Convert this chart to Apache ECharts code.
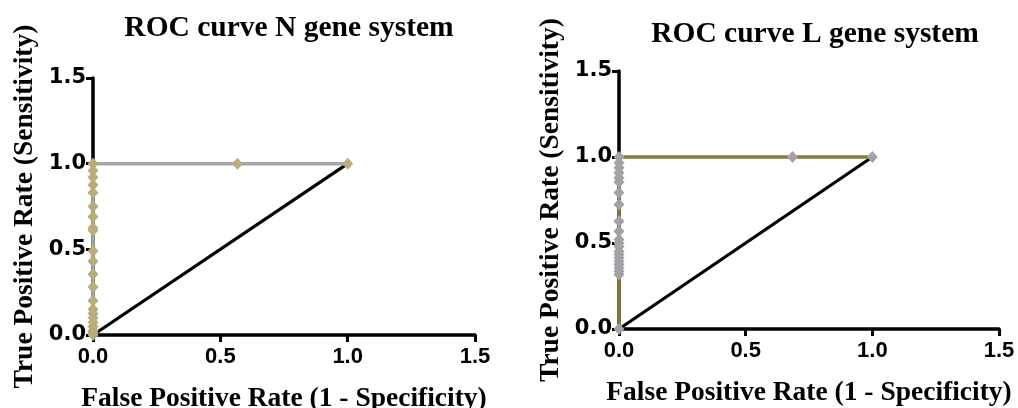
<!DOCTYPE html>
<html>
<head>
<meta charset="utf-8">
<script src="https://cdn.jsdelivr.net/npm/echarts@6/dist/echarts.min.js"></script>
<style>
html,body{margin:0;padding:0;background:#fff;}
#chart{width:1018px;height:408px;}
</style>
</head>
<body>
<div id="chart"></div>
<script>
// ---- data ----
const titles = ['ROC curve N gene system', 'ROC curve L gene system'];
const xAxisTitle = 'False Positive Rate (1 - Specificity)';
const yAxisTitle = 'True Positive Rate (Sensitivity)';

// N gene ROC curve (1 - specificity, sensitivity)
const nFpr = [0,0,0,0,0,0,0,0,0,0,0,0,0,0,0,0,0,0,0,0,0,0,0.567,1.0];
const nTpr = [0,0.012,0.025,0.05,0.075,0.1,0.125,0.15,0.2,0.28,0.355,0.43,0.49,0.61,0.625,0.69,0.75,0.83,0.875,0.92,0.96,1.0,1.0,1.0];

// L gene ROC curve
const lFpr = [0,0,0,0,0,0,0,0,0,0,0,0,0,0,0,0,0,0,0,0,0,0,0.685,1.0];
const lTpr = [0,0.317,0.336,0.355,0.375,0.394,0.414,0.433,0.452,0.48,0.5,0.52,0.569,0.627,0.724,0.792,0.854,0.88,0.909,0.938,0.967,1.0,1.0,1.0];

// reference (chance) line
const chanceX = [0, 1];
const chanceY = [0, 1];

const axisMin = 0, axisMax = 1.5, axisStep = 0.5;

// ---- styling ----
const colors = {
  nLine: '#a6a6a6', nMarker: '#b9ad7c',
  lLine: '#8c7a3a', lMarker: '#a3a3a7',
  axis: '#000000'
};

const zip = (a, b) => a.map((v, i) => [v, b[i]]);

const serif = '"Liberation Serif", "DejaVu Serif", serif';
const sans = '"Liberation Sans", Arial, sans-serif';

function xAxisCfg(gi) {
  return {
    type: 'value', gridIndex: gi, min: axisMin, max: axisMax, interval: axisStep,
    splitLine: {show: false},
    axisLine: {show: true, onZero: false, lineStyle: {color: colors.axis, width: 3.5}},
    axisTick: {show: true, length: 7, lineStyle: {color: colors.axis, width: 3}},
    axisLabel: {margin: 11, color: '#000', fontFamily: sans, fontWeight: 'bold', fontSize: 22,
      formatter: v => v.toFixed(1)},
    name: xAxisTitle, nameLocation: 'middle', nameGap: 50,
    nameTextStyle: {fontFamily: serif, fontWeight: 'bold', fontSize: 27.5, color: '#000'}
  };
}
function yAxisCfg(gi) {
  return {
    type: 'value', gridIndex: gi, min: axisMin, max: axisMax, interval: axisStep,
    splitLine: {show: false},
    axisLine: {show: true, onZero: false, lineStyle: {color: colors.axis, width: 3.5}},
    axisTick: {show: true, length: 7, lineStyle: {color: colors.axis, width: 3}},
    axisLabel: {margin: 7, color: '#000', fontFamily: '"DejaVu Sans", sans-serif', fontWeight: 'bold', fontSize: 21,
      formatter: v => v.toFixed(1)},
    name: yAxisTitle, nameLocation: 'middle', nameGap: 54, nameRotate: 90,
    nameTextStyle: {fontFamily: serif, fontWeight: 'bold', fontSize: 27.5, color: '#000'}
  };
}

function rocSeries(gi, fpr, tpr, lineColor, markerColor) {
  return {
    type: 'line', xAxisIndex: gi, yAxisIndex: gi, data: zip(fpr, tpr),
    clip: false, smooth: false, z: 4,
    lineStyle: {color: lineColor, width: 3.5},
    symbol: 'diamond', symbolSize: [11, 12], showAllSymbol: true,
    itemStyle: {color: markerColor, borderWidth: 0},
    emphasis: {disabled: true}
  };
}
function chanceSeries(gi) {
  return {
    type: 'line', xAxisIndex: gi, yAxisIndex: gi, data: zip(chanceX, chanceY),
    clip: false, z: 3, symbol: 'none',
    lineStyle: {color: '#000', width: 3.2},
    emphasis: {disabled: true}
  };
}

const chart = echarts.init(document.getElementById('chart'), null, {renderer: 'canvas'});
chart.setOption({
  animation: false,
  backgroundColor: '#ffffff',
  title: [
    {text: titles[0], left: 284, top: 8, textAlign: 'center',
     textStyle: {fontFamily: serif, fontWeight: 'bold', fontSize: 29.5, color: '#000'}},
    {text: titles[1], left: 810, top: 14, textAlign: 'center',
     textStyle: {fontFamily: serif, fontWeight: 'bold', fontSize: 29.5, color: '#000'}}
  ],
  grid: [
    {left: 93, top: 78, width: 382, height: 257, containLabel: false, outerBoundsMode: 'none'},
    {left: 619, top: 71, width: 380, height: 258, containLabel: false, outerBoundsMode: 'none'}
  ],
  xAxis: [xAxisCfg(0), xAxisCfg(1)],
  yAxis: [yAxisCfg(0), yAxisCfg(1)],
  series: [
    chanceSeries(0),
    rocSeries(0, nFpr, nTpr, colors.nLine, colors.nMarker),
    chanceSeries(1),
    rocSeries(1, lFpr, lTpr, colors.lLine, colors.lMarker)
  ]
});
</script>
</body>
</html>
